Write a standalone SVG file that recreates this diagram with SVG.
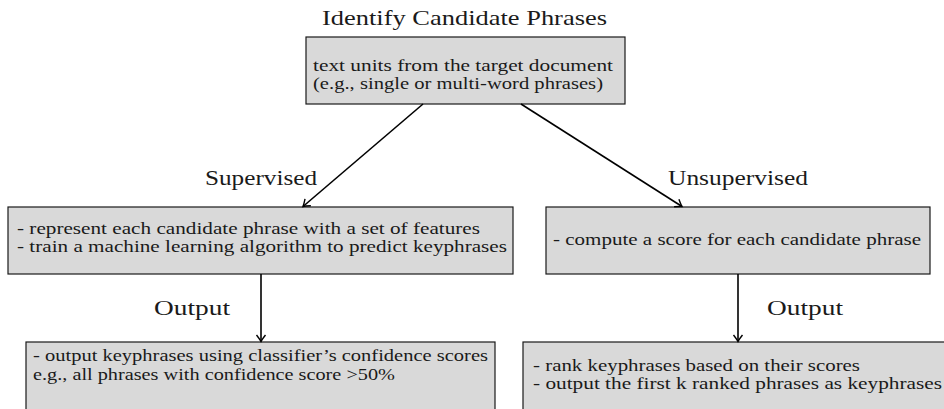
<svg xmlns="http://www.w3.org/2000/svg" width="944" height="409" viewBox="0 0 944 409">
<style>
.box{fill:#d9d9d9;stroke:#1a1a1a;stroke-width:1.2}
.t{font-family:"Liberation Serif","Times New Roman",serif;fill:#1a1a1a}
.body{font-size:16.5px}
.lab{font-size:22px}
.con{stroke:#000;stroke-width:1.6;fill:none}
</style>
<defs>
<marker id="arr" viewBox="-8 -6 10 12" refX="0" refY="0" markerWidth="10" markerHeight="12" markerUnits="userSpaceOnUse" orient="auto">
<path d="M-6.5,-4.5 Q-2,-1 0,0 Q-2,1 -6.5,4.5" fill="none" stroke="#000" stroke-width="1.4"/>
</marker>
</defs>
<rect width="944" height="409" fill="#fff"/>
<text class="t lab" x="322" y="25" textLength="285" lengthAdjust="spacingAndGlyphs">Identify Candidate Phrases</text>
<g id="candidates">
<rect class="box" x="306" y="37" width="319" height="67"/>
<text class="t body" x="313" y="71" textLength="300" lengthAdjust="spacingAndGlyphs">text units from the target document</text>
<text class="t body" x="313" y="89" textLength="290" lengthAdjust="spacingAndGlyphs">(e.g., single or multi-word phrases)</text>
</g>
<g id="supervised">
<rect class="box" x="8" y="207" width="505" height="67"/>
<text class="t body" x="17" y="234" textLength="463" lengthAdjust="spacingAndGlyphs">- represent each candidate phrase with a set of features</text>
<text class="t body" x="17" y="252" textLength="490" lengthAdjust="spacingAndGlyphs">- train a machine learning algorithm to predict keyphrases</text>
</g>
<g id="unsupervised">
<rect class="box" x="546" y="207" width="384" height="67"/>
<text class="t body" x="553" y="245" textLength="368" lengthAdjust="spacingAndGlyphs">- compute a score for each candidate phrase</text>
</g>
<g id="sup-output">
<rect class="box" x="26" y="342" width="469" height="80"/>
<text class="t body" x="33" y="361" textLength="455" lengthAdjust="spacingAndGlyphs">- output keyphrases using classifier’s confidence scores</text>
<text class="t body" x="33" y="380" textLength="362" lengthAdjust="spacingAndGlyphs">e.g., all phrases with confidence score &gt;50%</text>
</g>
<g id="unsup-output">
<rect class="box" x="523" y="342" width="430" height="80"/>
<text class="t body" x="533" y="371" textLength="327" lengthAdjust="spacingAndGlyphs">- rank keyphrases based on their scores</text>
<text class="t body" x="533" y="389" textLength="409" lengthAdjust="spacingAndGlyphs">- output the first k ranked phrases as keyphrases</text>
</g>
<g id="connectors">
<line class="con" x1="423" y1="104" x2="303" y2="206.5" marker-end="url(#arr)"/>
<line class="con" x1="521" y1="104" x2="682" y2="206.5" marker-end="url(#arr)"/>
<line class="con" x1="261" y1="274" x2="261" y2="341.5" marker-end="url(#arr)"/>
<line class="con" x1="738" y1="274" x2="738" y2="341.5" marker-end="url(#arr)"/>
<text class="t lab" x="205" y="185" textLength="112" lengthAdjust="spacingAndGlyphs">Supervised</text>
<text class="t lab" x="668" y="185" textLength="140" lengthAdjust="spacingAndGlyphs">Unsupervised</text>
<text class="t lab" x="154" y="315" textLength="76" lengthAdjust="spacingAndGlyphs">Output</text>
<text class="t lab" x="767" y="315" textLength="76" lengthAdjust="spacingAndGlyphs">Output</text>
</g>
</svg>
